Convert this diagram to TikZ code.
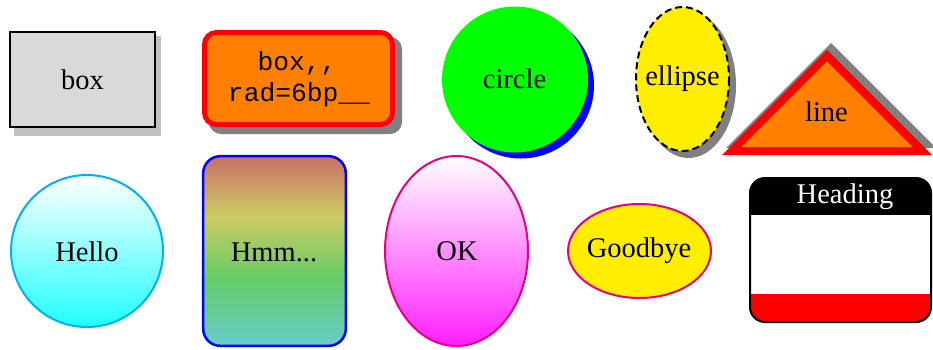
\documentclass[tikz,border=0pt]{standalone}
\usepackage{fontspec}
\setmainfont{Liberation Serif}
\setmonofont{Liberation Mono}
\definecolor{boxgray}{RGB}{217,217,217}
\definecolor{shadowlight}{RGB}{192,192,192}
\definecolor{shadowdark}{RGB}{128,128,128}
\definecolor{orng}{RGB}{255,128,0}
\definecolor{grn}{RGB}{0,255,0}
\definecolor{yel}{RGB}{255,238,0}
\definecolor{hellob}{RGB}{0,176,240}
\definecolor{hellof}{RGB}{30,255,255}
\definecolor{pinkb}{RGB}{230,0,130}
\definecolor{okf}{RGB}{255,30,255}
\definecolor{hmmteal}{RGB}{102,204,204}
\definecolor{hmmgreen}{RGB}{102,204,102}
\definecolor{hmmyellow}{RGB}{204,204,102}
\definecolor{hmmred}{RGB}{200,112,100}
\pgfdeclareverticalshading{hmmshade}{100bp}{color(0bp)=(hmmteal); color(25bp)=(hmmteal); color(43bp)=(hmmgreen); color(59bp)=(hmmyellow); color(75bp)=(hmmred); color(100bp)=(hmmred)}
\begin{document}
\begin{tikzpicture}[x=1pt,y=-1pt,
  lbl/.style={font=\fontsize{28.5}{32}\selectfont, anchor=base, inner sep=0pt},
  monolbl/.style={font=\ttfamily\fontsize{26.3}{30}\selectfont, anchor=base, inner sep=0pt}]
\useasboundingbox (0,0) rectangle (933,349);

% box
\fill[shadowlight] (14,36) rectangle (161,136);
\draw[line width=2pt, fill=boxgray] (10,32) rectangle (155,127);
\node[lbl] (tbox) at (82.5,89.3) {box};

% rounded orange box
\fill[shadowdark, rounded corners=12pt] (209,37) rectangle (402,134);
\draw[red, line width=5pt, fill=orng, rounded corners=12pt] (204.5,32.5) rectangle (392.5,124.5);
\node[monolbl] (tmono1) at (297,70) {box,,};
\node[monolbl] (tmono2) at (299,101.7) {rad=6bp\_\_};

% circle
\fill[blue] (521,85.5) circle[radius=73];
\fill[grn] (515,79.5) circle[radius=73];
\node[lbl] (tcircle) at (514.5,88.3) {circle};

% ellipse
\fill[shadowdark] (688.5,85) ellipse[x radius=47.5, y radius=73];
\draw[line width=2pt, fill=yel, dash pattern=on 7pt off 4pt] (682.5,79) ellipse[x radius=46.5, y radius=72];
\node[lbl] (tellipse) at (682.5,85) {ellipse};

% triangle
\fill[shadowdark] (726,148) -- (831,43) -- (936,148) -- cycle;
\fill[red] (722,155) -- (827,50) -- (932,155) -- cycle;
\fill[orng] (741.3,147) -- (827,61.3) -- (912.7,147) -- cycle;
\node[lbl] (tline) at (826.5,121.7) {line};

% Hello
\draw[hellob, line width=2pt, top color=white, bottom color=hellof] (87,251) circle[radius=76];
\node[lbl] (thello) at (87,261) {Hello};

% Hmm
\draw[blue, line width=2.5pt, shading=hmmshade, rounded corners=17pt] (203.2,156.2) rectangle (345.8,345.8);
\node[lbl] (thmm) at (274,261) {Hmm...};

% OK
\draw[pinkb, line width=2pt, top color=white, bottom color=okf] (456.5,251) ellipse[x radius=71.5, y radius=95];
\node[lbl] (tok) at (457,260.7) {OK};

% Goodbye
\draw[pinkb, line width=2pt, fill=yel] (639.5,251) ellipse[x radius=71.5, y radius=47];
\node[lbl] (tgoodbye) at (639,257.3) {Goodbye};

% Heading box
\begin{scope}
  \clip[rounded corners=15pt] (750,178) rectangle (931,322);
  \fill[white] (750,178) rectangle (931,322);
  \fill[black] (740,170) rectangle (940,215);
  \fill[red] (740,294) rectangle (940,330);
\end{scope}
\draw[line width=2pt, rounded corners=15pt] (750,178) rectangle (931,322);
\node[lbl, text=white] (theading) at (845,203.3) {Heading};
\end{tikzpicture}
\end{document}
